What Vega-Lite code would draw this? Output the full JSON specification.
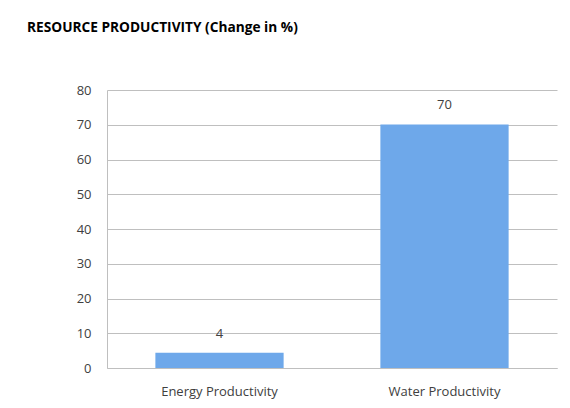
{
  "$schema": "https://vega.github.io/schema/vega-lite/v6.json",
  "autosize": "none",
  "width": 450,
  "height": 278,
  "padding": {"left": 107, "top": 90, "right": 13, "bottom": 40},
  "background": "white",
  "title": {
    "text": "RESOURCE PRODUCTIVITY (Change in %)",
    "anchor": "start",
    "frame": "group",
    "dx": -80,
    "offset": 49,
    "font": "Open Sans",
    "fontSize": 13.7,
    "fontWeight": "bold",
    "color": "#000000"
  },
  "data": {
    "values": [
      {"category": "Energy Productivity", "change": 4.4},
      {"category": "Water Productivity", "change": 70.1}
    ]
  },
  "encoding": {
    "x": {
      "field": "category",
      "type": "nominal",
      "sort": null,
      "scale": {"paddingInner": 0.43, "paddingOuter": 0.215},
      "axis": {
        "title": null,
        "labelAngle": 0,
        "ticks": false,
        "labelPadding": 17,
        "domainColor": "#bfbfbf",
        "labelFont": "Open Sans",
        "labelFontSize": 13,
        "labelColor": "#404040"
      }
    },
    "y": {
      "field": "change",
      "type": "quantitative",
      "scale": {"domain": [0, 80]},
      "axis": {
        "title": null,
        "values": [0, 10, 20, 30, 40, 50, 60, 70, 80],
        "ticks": false,
        "labelPadding": 16,
        "domain": true,
        "domainColor": "#bfbfbf",
        "gridColor": "#bfbfbf",
        "labelFont": "Open Sans",
        "labelFontSize": 13,
        "labelColor": "#404040"
      }
    }
  },
  "layer": [
    {"mark": {"type": "bar", "color": "#6ea8ea"}},
    {
      "mark": {"type": "text", "baseline": "bottom", "dy": -12, "font": "Open Sans", "fontSize": 13, "color": "#404040"},
      "encoding": {"text": {"field": "change", "type": "quantitative", "format": ".0f"}}
    }
  ],
  "config": {"view": {"stroke": null}}
}
